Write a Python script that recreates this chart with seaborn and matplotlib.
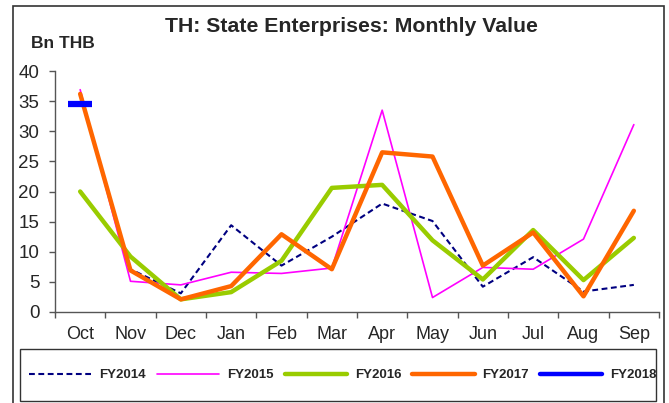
import matplotlib
matplotlib.use("Agg")
import matplotlib.pyplot as plt
from matplotlib.patches import Rectangle
from matplotlib.lines import Line2D
import numpy as np
import pandas as pd
import seaborn as sns

months = ["Oct", "Nov", "Dec", "Jan", "Feb", "Mar", "Apr", "May", "Jun", "Jul", "Aug", "Sep"]

fy2014 = [36.0, 7.1, 3.1, 14.4, 7.7, 12.5, 18.0, 15.1, 4.2, 9.1, 3.4, 4.5]
fy2015 = [36.9, 5.1, 4.5, 6.6, 6.4, 7.3, 33.5, 2.4, 7.4, 7.1, 12.1, 31.1]
fy2016 = [20.0, 9.2, 2.1, 3.3, 8.5, 20.6, 21.1, 11.9, 5.4, 13.6, 5.3, 12.3]
fy2017 = [36.2, 6.9, 2.1, 4.3, 12.9, 7.1, 26.5, 25.8, 7.7, 13.2, 2.6, 16.8]
fy2018 = [34.5]

series = {
    "FY2014": fy2014,
    "FY2015": fy2015,
    "FY2016": fy2016,
    "FY2017": fy2017,
    "FY2018": fy2018,
}
styles = {
    "FY2014": dict(color="#000080", lw=1.5, ls=(0, (2.8, 1.7))),
    "FY2015": dict(color="#FF00FF", lw=1.2, ls="-"),
    "FY2016": dict(color="#99CC00", lw=3.2, ls="-"),
    "FY2017": dict(color="#FF6600", lw=3.2, ls="-"),
    "FY2018": dict(color="#0000FF", lw=3.2, ls="-"),
}

sns.set_style("white")
plt.rcParams["font.family"] = ["Liberation Sans", "DejaVu Sans"]

W, H = 669, 403
fig = plt.figure(figsize=(W / 100, H / 100), dpi=100)
ax = fig.add_axes([55 / W, 1 - 312 / H, (659 - 55) / W, (312 - 71) / H])

for name, vals in series.items():
    df = pd.DataFrame({"pos": np.arange(len(vals)), "value": vals})
    st = styles[name]
    if len(vals) > 1:
        sns.lineplot(data=df, x="pos", y="value", ax=ax, color=st["color"],
                     lw=st["lw"], linestyle=st["ls"], legend=False)
    else:
        sns.lineplot(data=df, x="pos", y="value", ax=ax, color=st["color"],
                     marker="_", markersize=17, markeredgewidth=4.5,
                     markeredgecolor=st["color"], legend=False)

ax.set_xlim(-0.5, len(months) - 0.5)
ax.set_ylim(0, 40)
ax.set_yticks(np.arange(0, 41, 5))
ax.set_xticks(np.arange(-0.5, len(months), 1.0))
ax.set_xticklabels([])
ax.set_xticks(np.arange(len(months)), minor=True)
ax.set_xticklabels(months, minor=True, fontsize=13)
ax.tick_params(axis="x", which="major", direction="out", length=4, width=1,
               color="#555555", bottom=True)
ax.tick_params(axis="x", which="minor", length=0, pad=10)
ax.tick_params(axis="y", direction="out", length=4.3, width=1, color="#555555",
               left=True, labelsize=13.5, pad=7)
ax.set_xlabel("")
ax.set_ylabel("")
for s in ["top", "right"]:
    ax.spines[s].set_visible(False)
for s in ["left", "bottom"]:
    ax.spines[s].set_color("#555555")
    ax.spines[s].set_linewidth(1.0)

fig.text(351 / W, 1 - 32 / H, "TH: State Enterprises: Monthly Value",
         ha="center", va="baseline", fontsize=15.3, fontweight="bold")
fig.text(31 / W, 1 - 48.5 / H, "Bn THB", ha="left", va="baseline",
         fontsize=12.5, fontweight="bold")

# outer chart frame
fig.patches.append(Rectangle((13 / W, -0.05), (664 - 13) / W, 1.05 - 6 / H,
                             transform=fig.transFigure, fill=False,
                             edgecolor="#333333", lw=1.2))

# legend box
fig.patches.append(Rectangle((20 / W, 1 - 401 / H), (656 - 20) / W, 52 / H,
                             transform=fig.transFigure, fill=False,
                             edgecolor="#333333", lw=1.0))

handles = [Line2D([], [], color=styles[n]["color"], lw=styles[n]["lw"],
                  ls=styles[n]["ls"]) for n in series]
leg = fig.legend(handles, list(series.keys()), loc="center",
                 bbox_to_anchor=(343 / W, 1 - 375 / H),
                 ncol=5, frameon=False,
                 prop={"weight": "bold", "size": 9.5}, handlelength=4.7,
                 handletextpad=0.6, columnspacing=0.85, borderpad=0.0)

fig.savefig("out.png", dpi=100)
